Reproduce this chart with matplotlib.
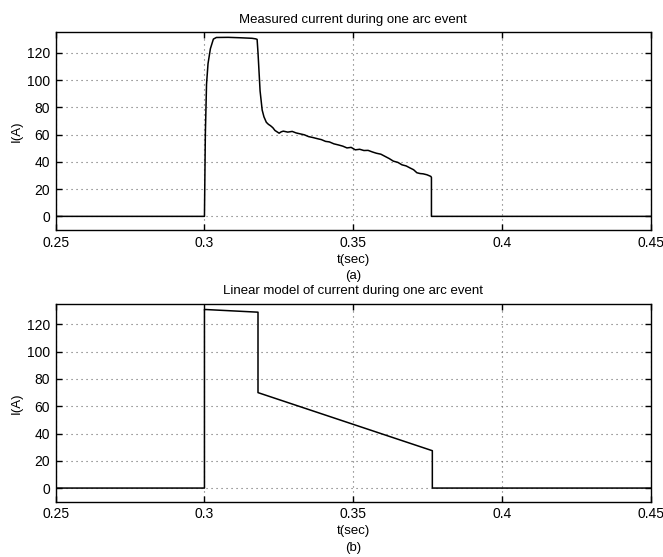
import matplotlib
matplotlib.use("Agg")
import matplotlib.pyplot as plt

# Measured current (a)
t_meas = [0.25, 0.3, 0.3003, 0.3007, 0.3012, 0.3020, 0.3030, 0.3040, 0.3080, 0.3120,
          0.3160, 0.3172, 0.3177, 0.3180, 0.3183, 0.3187, 0.3194, 0.3200, 0.3208,
          0.3215, 0.3222, 0.3230, 0.3237, 0.3244, 0.3251, 0.3258, 0.3265, 0.3280,
          0.3295, 0.3308, 0.3322, 0.3336, 0.3350, 0.3365, 0.3379, 0.3393, 0.3407,
          0.3420, 0.3435, 0.3450, 0.3465, 0.3479, 0.3493, 0.3507, 0.3522, 0.3536,
          0.3550, 0.3565, 0.3578, 0.3593, 0.3607, 0.3621, 0.3635, 0.3650, 0.3664,
          0.3678, 0.3692, 0.3703, 0.3714, 0.3725, 0.3735, 0.3748, 0.3761, 0.3763,
          0.3763, 0.45]
i_meas = [0, 0, 60, 97, 112, 123, 130, 131.2, 131.3, 131.0,
          130.6, 130.2, 129.8, 120, 108, 92, 78, 73, 69,
          67.5, 66.5, 65, 63, 62, 61, 62, 62.5, 61.8,
          62.3, 61.2, 60.5, 59.8, 58.5, 57.8, 57, 56.3, 55,
          54.6, 53.2, 52.4, 51.5, 50.2, 50.6, 48.8, 49.2, 48.3,
          48.4, 47.2, 46.3, 45.6, 44, 42.4, 40.5, 39.6, 37.8,
          37, 35.4, 34.2, 32, 31.4, 31.2, 30.5, 29.3, 28.5,
          0, 0]

# Linear model (b)
t_lin = [0.25, 0.3, 0.3, 0.318, 0.318, 0.3766, 0.3766, 0.45]
i_lin = [0, 0, 131, 129, 70, 27.4, 0, 0]

xticks = [0.25, 0.3, 0.35, 0.4, 0.45]
xticklabels = ["0.25", "0.3", "0.35", "0.4", "0.45"]
yticks = [0, 20, 40, 60, 80, 100, 120]

plt.rcParams['font.family'] = ['Liberation Sans', 'DejaVu Sans']

fig = plt.figure(figsize=(6.63, 5.57), dpi=100)
W, H = 663, 557
axA = fig.add_axes([55.7 / W, 1 - 230 / H, 595 / W, (230 - 32.3) / H])
axB = fig.add_axes([55.7 / W, 1 - 501.7 / H, 595 / W, (501.7 - 304) / H])

for ax, t, i, title, tag in [(axA, t_meas, i_meas, "Measured current during one arc event", "(a)"),
                             (axB, t_lin, i_lin, "Linear model of current during one arc event", "(b)")]:
    ax.plot(t, i, color='black', linewidth=1.1)
    ax.set_xlim(0.25, 0.45)
    ax.set_ylim(-10, 135)
    ax.set_xticks(xticks)
    ax.set_xticklabels(xticklabels)
    ax.set_yticks(yticks)
    ax.grid(True, linestyle=(0, (1, 3.5)), color='0.4', linewidth=0.8)
    ax.tick_params(direction='in', top=True, right=True, labelsize=10, length=4, width=1, pad=4)
    for s in ax.spines.values():
        s.set_linewidth(1.0)
    ax.set_title(title, fontsize=9.5, pad=7)
    ax.set_ylabel("I(A)", fontsize=9.5, labelpad=3)
    ax.set_xlabel("t(sec)\n" + tag, fontsize=9.5, labelpad=3, linespacing=1.5)

fig.savefig("out.png", dpi=100)
